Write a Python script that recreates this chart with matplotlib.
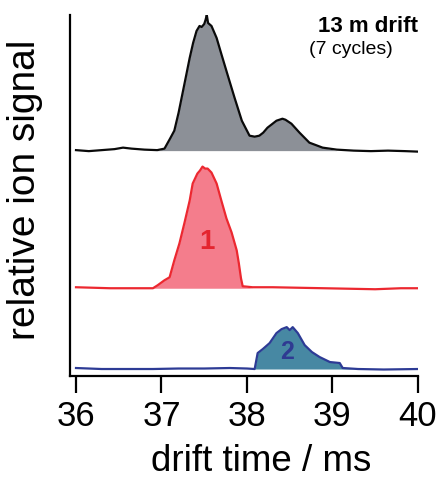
import matplotlib
matplotlib.use('Agg')
import matplotlib.pyplot as plt

plt.rcParams['font.family'] = ['Liberation Sans', 'DejaVu Sans']

# drift time (ms) / signal above each trace's baseline (arbitrary units)
black_t = [36.00, 36.15, 36.30, 36.45, 36.55, 36.65, 36.80, 36.95, 37.035, 37.10, 37.15,
           37.20, 37.245, 37.29, 37.33, 37.37, 37.41, 37.445, 37.47, 37.50, 37.515, 37.53,
           37.545, 37.585, 37.645, 37.70, 37.77, 37.855, 37.94, 38.00, 38.03, 38.09, 38.145,
           38.19, 38.24, 38.345, 38.415, 38.45, 38.52, 38.615, 38.73, 38.885, 39.05, 39.25,
           39.45, 39.65, 39.85, 40.00]
black_s = [0.5, -0.5, 0.5, 1.5, 3, 2, 1, 0.5, 2, 12, 20,
           38, 57, 76, 93, 108, 120, 125, 124, 127, 131, 136,
           128, 125, 113, 97, 77, 53, 30, 20, 15, 14, 15,
           18, 23, 30, 32, 31, 27, 18, 8, 3, 1, 0,
           -0.5, 0, -0.5, -1]

red_t = [36.00, 36.20, 36.40, 36.60, 36.80, 36.90, 36.955, 37.035, 37.095, 37.15, 37.21,
         37.27, 37.33, 37.365, 37.42, 37.45, 37.48, 37.51, 37.54, 37.585, 37.645, 37.70,
         37.76, 37.82, 37.88, 37.905, 37.93, 37.95, 38.065, 38.30, 38.60, 38.90, 39.20,
         39.50, 39.80, 40.00]
red_s = [1, 0.5, 0, 0, 0, 0, 3, 8, 11, 28, 45,
         66, 88, 105, 115, 118, 122, 120, 120, 116, 105, 88,
         70, 56, 38, 25, 10, 2, 1, 1, 0.5, 0, -0.5,
         -1, 0, 0]

blue_t = [36.00, 36.30, 36.60, 36.90, 37.20, 37.50, 37.80, 38.00, 38.09, 38.125, 38.185,
          38.265, 38.345, 38.405, 38.465, 38.50, 38.535, 38.595, 38.675, 38.76, 38.85,
          38.97, 39.085, 39.12, 39.30, 39.60, 40.00]
blue_s = [1, 0, 0, 0, 0.5, 0.5, 1, 0.5, 0, 16, 20,
          26, 36, 40, 42, 39, 42, 36, 24, 17, 12,
          7, 6, 1, 0, -0.5, 0]

xticks = [36, 37, 38, 39, 40]

# trace offsets and peak windows
traces = [
    (black_t, black_s, 226, (37.0, 38.95), '#0a0a0a', '#8c9097'),
    (red_t, red_s, 88, (36.9, 38.0), '#ec2830', '#f47d8c'),
    (blue_t, blue_s, 7, (38.09, 39.12), '#2d3b95', '#4788a3'),
]

fig = plt.figure(figsize=(4.39, 4.78), dpi=100)
ax = fig.add_axes([0.1595, 0.2134, 0.7925, 0.7552])

for t, s, off, (lo, hi), lc, fc in traces:
    y = [v + off for v in s]
    mask = [lo <= v <= hi for v in t]
    ax.fill_between(t, off, y, where=mask, color=fc, lw=0, interpolate=True)
    ax.plot(t, y, color=lc, lw=1.6)

ax.text(37.53, 134, '1', color='#e4252f', fontsize=20, fontweight='bold',
        ha='center', va='center')
ax.text(38.47, 24, '2', color='#2f3a92', fontsize=18, fontweight='bold',
        ha='center', va='center')

ax.text(40.0, 350, '13 m drift', fontsize=16, fontweight='bold', ha='right', va='center')
ax.text(38.73, 327, '(7 cycles)', fontsize=14, ha='left', va='center')

ax.set_xlim(35.93, 40.0)
ax.set_ylim(0, 362)
ax.set_xticks(xticks)
ax.set_yticks([])
ax.spines['top'].set_visible(False)
ax.spines['right'].set_visible(False)
ax.spines['left'].set_linewidth(1.6)
ax.spines['bottom'].set_linewidth(1.6)
ax.spines['bottom'].set_bounds(35.93, 40.0)
ax.tick_params(axis='x', direction='out', length=12, width=1.6, labelsize=25, pad=5)
ax.set_xlabel('drift time / ms', fontsize=26.5)
ax.xaxis.set_label_coords(0.55, -0.188)
ax.set_ylabel('relative ion signal', fontsize=28)
ax.yaxis.set_label_coords(-0.078, 0.515)

fig.savefig('out.png', dpi=100)
